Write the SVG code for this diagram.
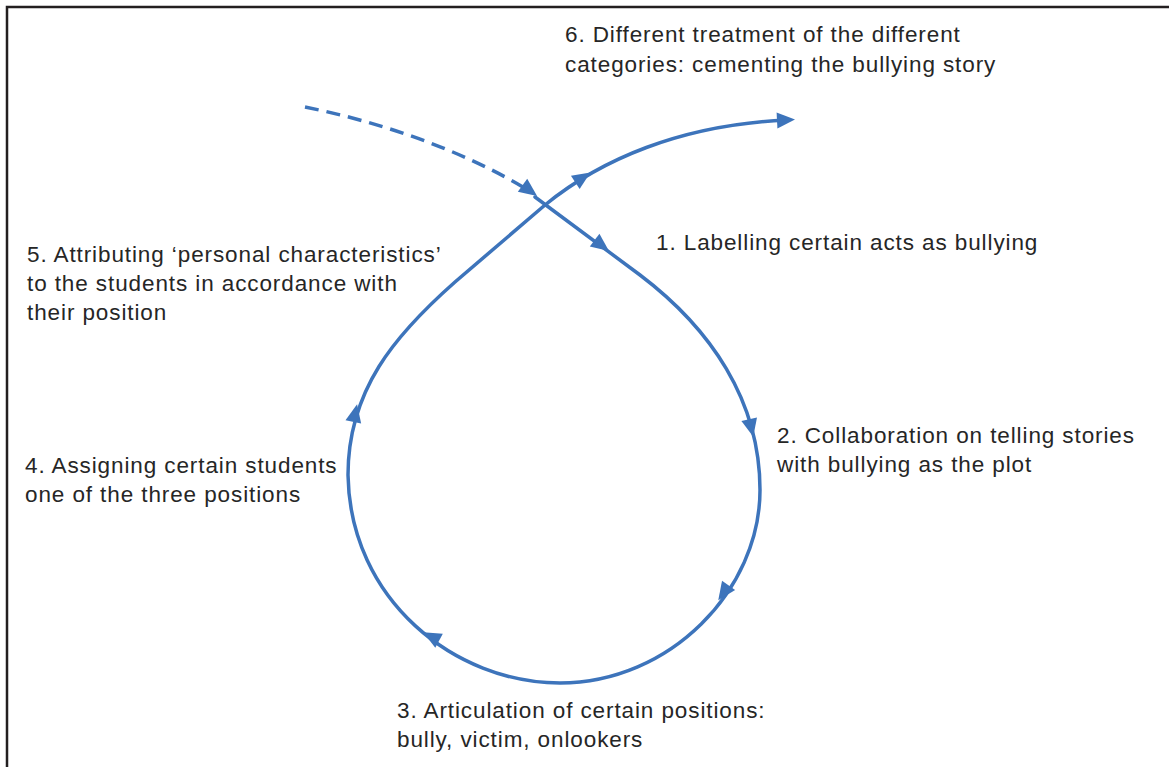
<svg xmlns="http://www.w3.org/2000/svg" xmlns:xlink="http://www.w3.org/1999/xlink" width="1169" height="767" viewBox="0 0 1169 767">
<style>
.lbl{font-family:"Liberation Sans",Arial,sans-serif;font-size:22.5px;letter-spacing:0.9px;fill:#262626}
.ln{fill:none;stroke:#3d74bb;stroke-width:3.5;stroke-linecap:round;stroke-linejoin:round}
.dash{stroke-dasharray:14 8;stroke-linecap:butt}
.ah{fill:#3d74bb}
</style>
<defs>
<path id="ah" d="M 10 0 L -8 -8 L -8 8 Z"/>
</defs>
<rect x="0" y="0" width="1169" height="767" fill="#ffffff"/>
<path d="M 7 767 L 7 7 L 1169 7" fill="none" stroke="#231f20" stroke-width="2.5"/>
<g id="connectors">
<path class="ln dash" d="M 305 107 C 380 122, 462 150, 528 190"/>
<path class="ln" d="M 535 197 L 640 275 C 710 328, 760 400, 760 490 C 760 590, 670 683, 560 683 C 455 683, 350 600, 348 475 C 348 390, 395 335, 455 282 L 545 205 C 600 160, 680 125, 786 120"/>
<g class="ah">
<use xlink:href="#ah" transform="translate(529,190) rotate(36)"/>
<use xlink:href="#ah" transform="translate(601,245) rotate(37)"/>
<use xlink:href="#ah" transform="translate(751,427) rotate(77)"/>
<use xlink:href="#ah" transform="translate(724,592) rotate(125)"/>
<use xlink:href="#ah" transform="translate(432,637) rotate(-152)"/>
<use xlink:href="#ah" transform="translate(355,414) rotate(-78)"/>
<use xlink:href="#ah" transform="translate(582,178) rotate(-33)"/>
<use xlink:href="#ah" transform="translate(785,120) rotate(-3)"/>
</g>
</g>
<g id="n6"><text class="lbl" x="565" y="42">6. Different treatment of the different</text><text class="lbl" x="565" y="72">categories: cementing the bullying story</text></g>
<g id="n1"><text class="lbl" x="656" y="250">1. Labelling certain acts as bullying</text></g>
<g id="n5"><text class="lbl" x="27" y="262">5. Attributing ‘personal characteristics’</text><text class="lbl" x="27" y="291">to the students in accordance with</text><text class="lbl" x="27" y="320">their position</text></g>
<g id="n2"><text class="lbl" x="777" y="443">2. Collaboration on telling stories</text><text class="lbl" x="777" y="472">with bullying as the plot</text></g>
<g id="n4"><text class="lbl" x="25" y="473">4. Assigning certain students</text><text class="lbl" x="25" y="502">one of the three positions</text></g>
<g id="n3"><text class="lbl" x="397" y="718">3. Articulation of certain positions:</text><text class="lbl" x="397" y="747">bully, victim, onlookers</text></g>
</svg>
